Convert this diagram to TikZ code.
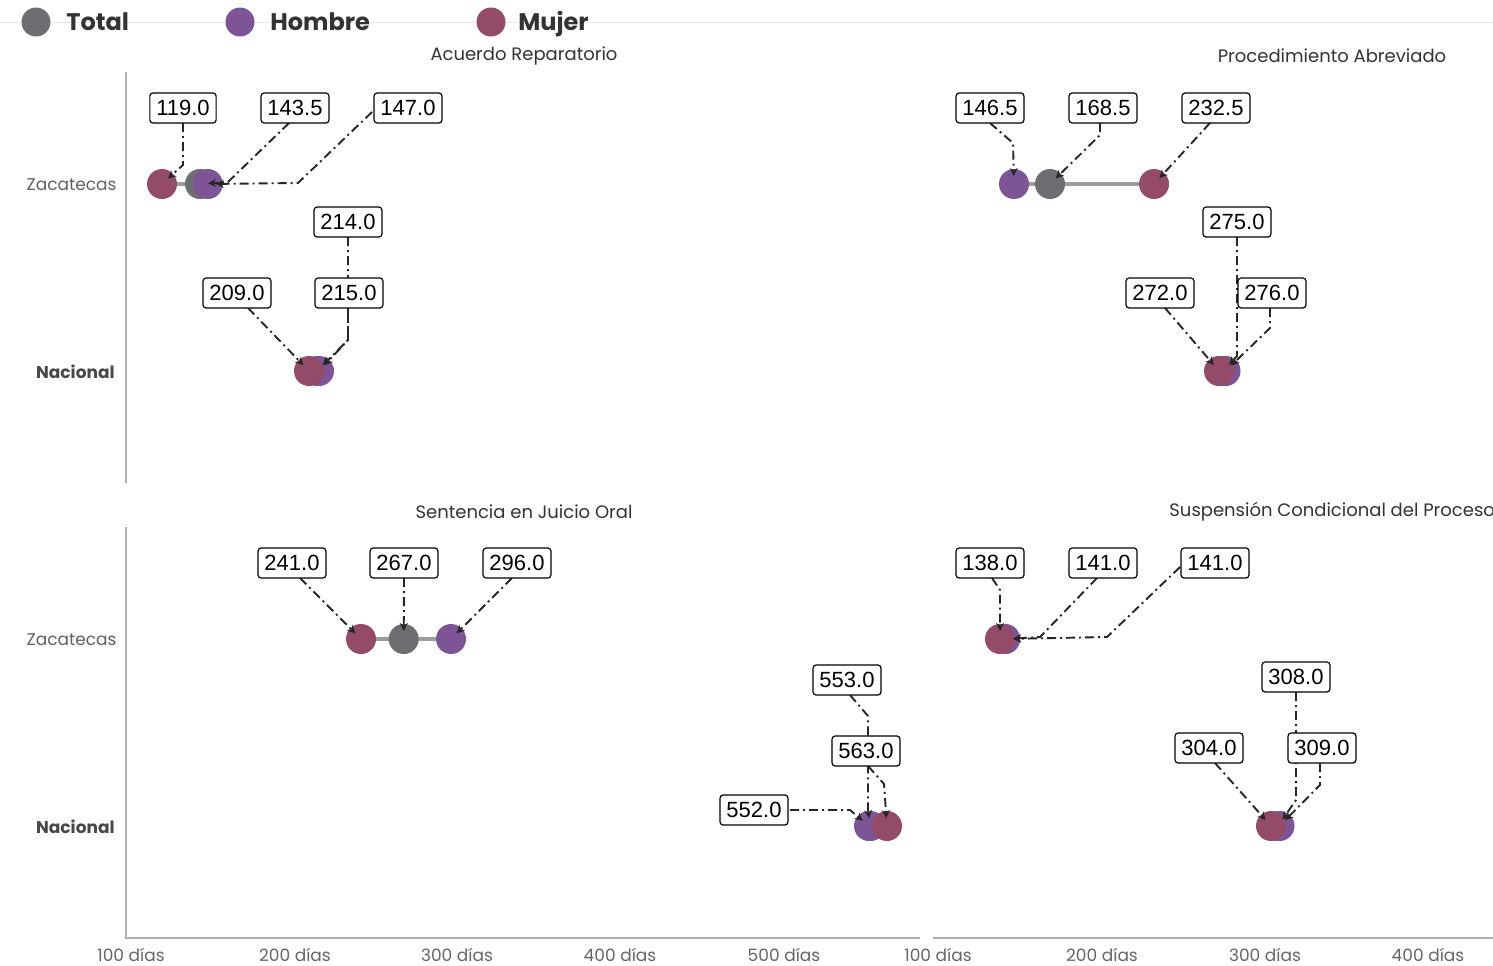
\documentclass[tikz,border=0pt]{standalone}
\usepackage{fontspec}
\setmainfont{Poppins}
\newfontfamily\lab{Liberation Sans}
\usetikzlibrary{arrows.meta}
\definecolor{cT}{HTML}{6D6E71}
\definecolor{cH}{HTML}{7D5596}
\definecolor{cM}{HTML}{944B69}
\definecolor{axisc}{HTML}{B0B0B0}
\definecolor{segc}{HTML}{9C9C9C}
\definecolor{txt}{HTML}{333333}
\tikzset{
  dotT/.style={circle,fill=cT,minimum size=15pt,inner sep=0pt},
  dotH/.style={circle,fill=cH,minimum size=15pt,inner sep=0pt},
  dotM/.style={circle,fill=cM,minimum size=15pt,inner sep=0pt},
  valbox/.style={draw=black,fill=white,rounded corners=1.5pt,line width=0.6pt,
     inner xsep=3.2pt,inner ysep=0pt,minimum height=15pt,font=\lab\fontsize{11}{12}\selectfont},
  conn/.style={draw=black!85,line width=0.95pt,dash pattern=on 4.5pt off 2pt on 1pt off 2pt,
     -{Stealth[length=4pt,width=4pt]},shorten >=4pt},
  seg/.style={draw=segc,line width=2pt},
  axisl/.style={draw=axisc,line width=1pt},
  ptitle/.style={font=\fontsize{9}{11}\selectfont,text=txt},
  ylab/.style={font=\fontsize{8.5}{10}\selectfont,text=black!62,anchor=east,inner sep=0pt},
  ylabb/.style={font=\bfseries\fontsize{8.5}{10}\selectfont,text=black!72,anchor=east,inner sep=0pt},
  tick/.style={font=\fontsize{8.5}{10}\selectfont,text=black!60},
  legt/.style={font=\bfseries\fontsize{12}{14}\selectfont,text=txt,anchor=base west,inner sep=0pt},
}
\begin{document}
\begin{tikzpicture}[x=0.5pt,y=-0.5pt]
\useasboundingbox (0,0) rectangle (1493,965);
\fill[white] (0,0) rectangle (1493,965);
% legend
\draw[black!9,line width=0.5pt] (0,22) -- (1493,22);
\node[dotT,minimum size=14.5pt] (lT) at (36,22) {};
\node[legt] (lTt) at (66,30) {Total};
\node[dotH,minimum size=14.5pt] (lH) at (240,22) {};
\node[legt] (lHt) at (270,30) {Hombre};
\node[dotM,minimum size=14.5pt] (lM) at (491,22) {};
\node[legt] (lMt) at (518,30) {Mujer};
% titles
\node[ptitle] (t1) at (524,56) {Acuerdo Reparatorio};
\node[ptitle] (t2) at (1332,56) {Procedimiento Abreviado};
\node[ptitle] (t3) at (524,512) {Sentencia en Juicio Oral};
\node[ptitle,anchor=west,inner sep=0pt] (t4) at (1169,512) {Suspensión Condicional del Proceso};
% axes
\draw[axisl] (126,72) -- (126,483);
\draw[axisl] (126,527) -- (126,938) -- (920,938);
\draw[axisl] (933,938) -- (1493,938);
\node[ylab] (y1) at (117,185) {Zacatecas};
\node[ylabb] (y2) at (115,372) {Nacional};
\node[ylab] (y3) at (117,640) {Zacatecas};
\node[ylabb] (y4) at (115,827) {Nacional};
\foreach \x/\t in {131/100,295/200,457/300,620/400,784/500,938/100,1102/200,1265/300,1428/400}
  \node[tick] at (\x,955) {\t\ días};
% segments
\draw[seg] (162,184) -- (207.7,184);
\draw[seg] (1014,184) -- (1154,184);
\draw[seg] (361,639) -- (451,639);
\draw[seg] (1000,639) -- (1005,639);
% dots: Acuerdo Reparatorio
\node[dotT] (arZT) at (200,184) {};
\node[dotH] (arZH) at (207.7,184) {};
\node[dotM] (arZM) at (162,184) {};
\node[dotT] (arNT) at (317,371) {};
\node[dotH] (arNH) at (319,371) {};
\node[dotM] (arNM) at (309,371) {};
% Procedimiento Abreviado
\node[dotT] (prZT) at (1050,184) {};
\node[dotH] (prZH) at (1014,184) {};
\node[dotM] (prZM) at (1154,184) {};
\node[dotT] (prNT) at (1224,371) {};
\node[dotH] (prNH) at (1225.5,371) {};
\node[dotM] (prNM) at (1219,371) {};
% Sentencia
\node[dotT] (sjZT) at (403.7,639) {};
\node[dotH] (sjZH) at (451,639) {};
\node[dotM] (sjZM) at (361,639) {};
\node[dotT] (sjNT) at (870.5,826) {};
\node[dotH] (sjNH) at (869,826) {};
\node[dotM] (sjNM) at (887,826) {};
% Suspension
\node[dotT] (scZT) at (1005,639) {};
\node[dotH] (scZH) at (1005,639) {};
\node[dotM] (scZM) at (1000,639) {};
\node[dotT] (scNT) at (1278,826) {};
\node[dotH] (scNH) at (1279.5,826) {};
\node[dotM] (scNM) at (1271,826) {};
% box positions
\path
 (183,108) coordinate (p119) (295,108) coordinate (p1435) (408,108) coordinate (p147)
 (348,222) coordinate (p214) (237,293) coordinate (p209) (349,293) coordinate (p215)
 (990,108) coordinate (p1465) (1103,108) coordinate (p1685) (1216,108) coordinate (p2325)
 (1237,222) coordinate (p275) (1160,293) coordinate (p272) (1272,293) coordinate (p276)
 (292,563) coordinate (p241) (404,563) coordinate (p267) (517,563) coordinate (p296)
 (847,680) coordinate (p553) (866,751) coordinate (p563) (754,810) coordinate (p552)
 (990,563) coordinate (p138) (1103,563) coordinate (p141a) (1215,563) coordinate (p141b)
 (1296,677) coordinate (p308) (1209,748) coordinate (p304) (1322,748) coordinate (p309);
% connectors
\draw[conn] (183,123) -- (183,165) -- (arZM.center);
\draw[conn] (289,123) -- (228,182) -- (arZT.center);
\draw[conn] (372,112) -- (298,183) -- (arZH.center);
\draw[conn] (348,237) -- (348,340) -- (arNH.center);
\draw[conn] (348,308) -- (348,340) -- (arNT.center);
\draw[conn] (248,308) -- (arNM.center);
\draw[conn] (990,123) -- (1013,143) -- (prZH.center);
\draw[conn] (1100,123) -- (1100,135) -- (prZT.center);
\draw[conn] (1210,123) -- (prZM.center);
\draw[conn] (1237,237) -- (1237,356) -- (prNT.center);
\draw[conn] (1270,308) -- (1270,328) -- (prNH.center);
\draw[conn] (1165,308) -- (prNM.center);
\draw[conn] (300,578) -- (sjZM.center);
\draw[conn] (404,578) -- (sjZT.center);
\draw[conn] (512,578) -- (sjZH.center);
\draw[conn] (850,695) -- (868,716) -- (868,810) -- (sjNT.center);
\draw[conn] (868,766) -- (884,784) -- (sjNM.center);
\draw[conn] (790,810) -- (850,810) -- (sjNH.center);
\draw[conn] (992,578) -- (1000,590) -- (scZM.center);
\draw[conn] (1097,578) -- (1040,637) -- (scZT.center);
\draw[conn] (1180,567) -- (1107,637) -- (scZH.center);
\draw[conn] (1296,692) -- (1296,800) -- (scNT.center);
\draw[conn] (1320,763) -- (1320,785) -- (scNH.center);
\draw[conn] (1215,763) -- (scNM.center);
% value boxes
\node[valbox] (b119) at (p119) {119.0};
\node[valbox] (b1435) at (p1435) {143.5};
\node[valbox] (b147) at (p147) {147.0};
\node[valbox] (b214) at (p214) {214.0};
\node[valbox] (b209) at (p209) {209.0};
\node[valbox] (b215) at (p215) {215.0};
\node[valbox] (b1465) at (p1465) {146.5};
\node[valbox] (b1685) at (p1685) {168.5};
\node[valbox] (b2325) at (p2325) {232.5};
\node[valbox] (b275) at (p275) {275.0};
\node[valbox] (b272) at (p272) {272.0};
\node[valbox] (b276) at (p276) {276.0};
\node[valbox] (b241) at (p241) {241.0};
\node[valbox] (b267) at (p267) {267.0};
\node[valbox] (b296) at (p296) {296.0};
\node[valbox] (b553) at (p553) {553.0};
\node[valbox] (b563) at (p563) {563.0};
\node[valbox] (b552) at (p552) {552.0};
\node[valbox] (b138) at (p138) {138.0};
\node[valbox] (b141a) at (p141a) {141.0};
\node[valbox] (b141b) at (p141b) {141.0};
\node[valbox] (b308) at (p308) {308.0};
\node[valbox] (b304) at (p304) {304.0};
\node[valbox] (b309) at (p309) {309.0};
\end{tikzpicture}
\end{document}
